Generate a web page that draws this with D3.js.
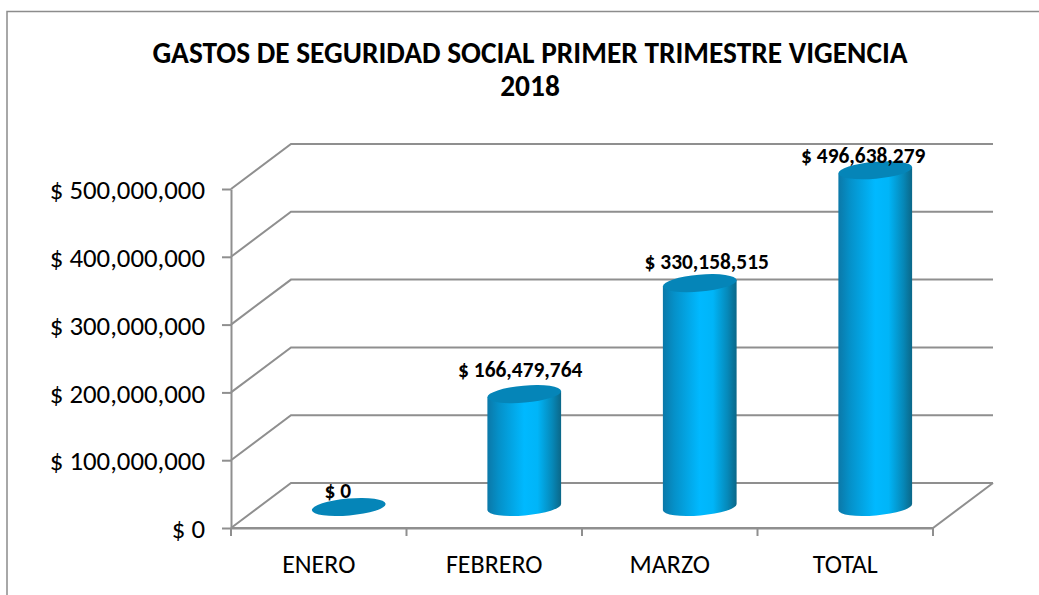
<!DOCTYPE html>
<html>
<head>
<meta charset="utf-8">
<script src="https://cdn.jsdelivr.net/npm/d3@7"></script>
<style>
  html, body { margin: 0; background: #fff; overflow: hidden; }
  text { font-family: Carlito, Calibri, Lato, sans-serif; fill: #000; }
</style>
</head>
<body>
<div id="chart"></div>
<script>
const titleLines = ['GASTOS DE SEGURIDAD SOCIAL PRIMER TRIMESTRE VIGENCIA', '2018'];
const categories = ['ENERO', 'FEBRERO', 'MARZO', 'TOTAL'];
const values = [0, 166479764, 330158515, 496638279];
const yTicks = [0, 100000000, 200000000, 300000000, 400000000, 500000000];

const W = 1039, H = 595;
const plot = { left: 231, right: 933, top: 189, bottom: 528 };
const depth = { x: 60, y: -45 };
const barRx = 37, barRy = 8.5, barTilt = -5;
// data labels were hand placed in the original
const labelDx = [-11, -4, 7, -12];
const labelDy = [-9, -17, -14, -7];

const money = (d) => '$ ' + d3.format(',')(d);

const svg = d3.select('#chart').append('svg')
  .attr('width', W).attr('height', H).attr('viewBox', `0 0 ${W} ${H}`)
  .style('display', 'block');

const defs = svg.append('defs');
const grad = defs.append('linearGradient').attr('id', 'cyl')
  .attr('x1', 0).attr('x2', 1).attr('y1', 0).attr('y2', 0);
[[0, '#0b78a8'], [0.15, '#0590c8'], [0.5, '#00b9ff'], [0.68, '#00b5f8'], [0.88, '#0688b8'], [1, '#0b6788']]
  .forEach(([o, c]) => grad.append('stop').attr('offset', o).attr('stop-color', c));

const x = d3.scaleBand().domain(categories).range([plot.left, plot.right]);
const y = d3.scaleLinear().domain([0, 500000000]).range([plot.bottom, plot.top]);

// chart frame, cropped on the right and bottom of the picture
svg.append('path')
  .attr('d', `M7,${H}V11.5H${W}`)
  .attr('fill', 'none').attr('stroke', '#8c8c8c').attr('stroke-width', 1.5);

svg.append('text').attr('text-anchor', 'middle').attr('font-weight', 700).attr('font-size', 29.4)
  .selectAll('tspan').data(titleLines).join('tspan')
  .attr('x', 530).attr('y', (d, i) => 63 + i * 33).text((d) => d);

// 3d walls and floor
const GRID = '#8f8f8f';
const walls = svg.append('g').attr('fill', 'none').attr('stroke', GRID).attr('stroke-width', 2);
walls.selectAll('.grid').data(yTicks).join('path').attr('class', 'grid')
  .attr('d', (d) => `M${plot.left},${y(d)}l${depth.x},${depth.y}H${plot.right + depth.x}`);
walls.append('path')
  .attr('d', `M${plot.left},${plot.bottom}H${plot.right}l${depth.x},${depth.y}`);

// axes
const yAxis = svg.append('g').attr('transform', `translate(${plot.left},0)`)
  .call(d3.axisLeft(y).tickValues(yTicks).tickFormat(money).tickSize(9).tickSizeOuter(0).tickPadding(17));
const xAxis = svg.append('g').attr('transform', `translate(0,${plot.bottom})`)
  .call(d3.axisBottom(x).tickSize(0).tickPadding(27));
xAxis.selectAll('.bandtick').data(d3.range(categories.length + 1)).join('line')
  .attr('class', 'bandtick')
  .attr('x1', (i) => plot.left + i * x.step()).attr('x2', (i) => plot.left + i * x.step())
  .attr('y1', 0).attr('y2', 8).attr('stroke', GRID).attr('stroke-width', 2);
[yAxis, xAxis].forEach((g) => {
  g.selectAll('.domain').attr('stroke', GRID).attr('stroke-width', 2);
  g.selectAll('.tick line').attr('stroke', GRID).attr('stroke-width', 2);
});
yAxis.selectAll('text').attr('font-size', 26.8).attr('font-family', null).attr('dy', '0.36em');
xAxis.selectAll('text').attr('font-size', 26).attr('font-family', null);
xAxis.selectAll('.tick text').attr('dy', '0.71em');

// cylinders sit in the middle of the floor depth
const cx = (d) => x(d) + x.bandwidth() / 2 + depth.x / 2;
const baseY = (v) => y(v) + depth.y / 2 + 1.5;
const tilt = barTilt * Math.PI / 180;
const dx = barRx * Math.cos(tilt), dy = barRx * Math.sin(tilt);

const bars = svg.selectAll('.bar').data(categories.map((c, i) => ({ c, v: values[i], i })))
  .join('g').attr('class', 'bar');

bars.filter((d) => d.v > 0).append('path')
  .attr('fill', 'url(#cyl)')
  .attr('d', (d) => {
    const c = cx(d.c), t = baseY(d.v), b = baseY(0);
    return `M${c - dx},${t - dy}L${c - dx},${b - dy}`
      + `A${barRx},${barRy} ${barTilt} 0 0 ${c + dx},${b + dy}`
      + `L${c + dx},${t + dy}Z`;
  });

bars.append('ellipse')
  .attr('rx', barRx).attr('ry', barRy).attr('fill', '#0585b8')
  .attr('transform', (d) => `translate(${cx(d.c)},${baseY(d.v)}) rotate(${barTilt})`);

bars.append('text').attr('text-anchor', 'middle').attr('font-weight', 700).attr('font-size', 21.4)
  .attr('x', (d) => cx(d.c) + labelDx[d.i])
  .attr('y', (d) => baseY(d.v) + labelDy[d.i])
  .text((d) => money(d.v));
</script>
</body>
</html>
